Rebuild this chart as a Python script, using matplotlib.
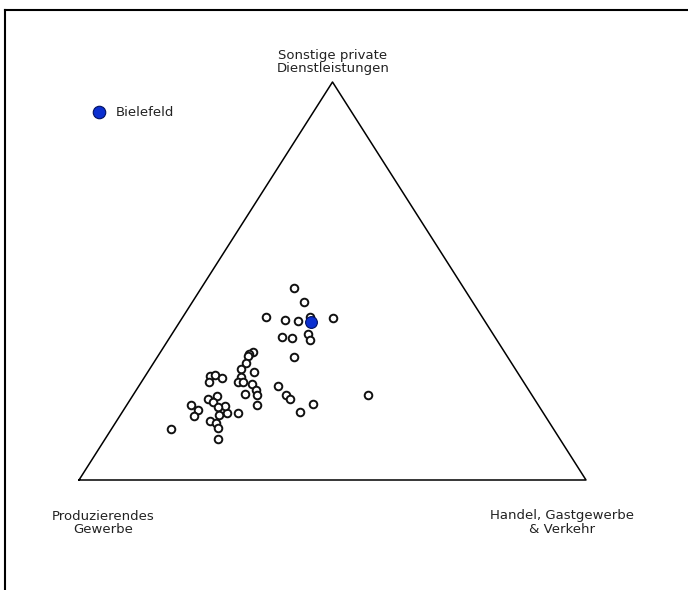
import matplotlib
matplotlib.use("Agg")
import matplotlib.pyplot as plt
from matplotlib.lines import Line2D
import numpy as np

plt.rcParams['font.family'] = ['DejaVu Sans']

# shares in percent: Produzierendes Gewerbe, Handel/Gastgewerbe/Verkehr, Sonstige private Dienstleistungen
produz = [33.4, 33.3, 42.6, 39.3, 36.8, 34.0, 29.5, 41.9, 40.1, 36.5, 36.8, 42.0,
          49.7, 50.6, 51.2, 52.3, 54.2, 51.8, 61.0, 60.0, 58.9, 62.0, 55.1, 56.2,
          55.5, 53.8, 53.9, 54.2, 56.4, 49.0, 48.5, 48.3, 44.3, 47.9, 32.3, 55.5,
          60.2, 62.3, 61.8, 62.2, 64.3, 63.8, 63.4, 64.3, 66.7, 65.8, 66.0, 67.4,
          68.5, 67.8, 69.3, 75.5]
handel = [18.3, 22.1, 16.4, 20.6, 23.3, 25.0, 29.8, 22.1, 24.2, 26.7, 27.9, 27.0,
          18.2, 17.8, 17.7, 18.2, 18.0, 21.0, 12.8, 13.7, 15.4, 13.4, 18.9, 19.1,
          20.0, 22.1, 23.6, 24.5, 21.9, 27.5, 30.2, 31.4, 36.7, 35.1, 46.4, 25.6,
          23.0, 20.8, 19.5, 16.8, 15.3, 16.7, 18.3, 19.4, 18.5, 19.9, 20.9, 22.4,
          12.7, 14.6, 14.6, 11.8]
sonstige = [48.3, 44.6, 41.0, 40.1, 39.9, 41.0, 40.7, 36.0, 35.7, 36.8, 35.3, 31.0,
            32.1, 31.6, 31.1, 29.5, 27.8, 27.2, 26.2, 26.3, 25.7, 24.6, 26.0, 24.7,
            24.5, 24.1, 22.5, 21.3, 21.7, 23.5, 21.3, 20.3, 19.0, 17.0, 21.3, 18.9,
            16.8, 16.9, 18.7, 21.0, 20.4, 19.5, 18.3, 16.3, 14.8, 14.3, 13.1, 10.2,
            18.8, 17.6, 16.1, 12.7]

bielefeld = [34.4, 26.0, 39.6]

corner_labels = ["Produzierendes\nGewerbe", "Handel, Gastgewerbe\n& Verkehr",
                 "Sonstige private\nDienstleistungen"]


def to_xy(a, b, c):
    a, b, c = np.asarray(a, float), np.asarray(b, float), np.asarray(c, float)
    tot = a + b + c
    return (b + c / 2) / tot, c / tot


W, H = 688, 590
fig = plt.figure(figsize=(W / 100, H / 100), dpi=100)
ax = fig.add_axes([79 / W, (H - 480) / H, 507 / W, 398 / H])
ax.set_xlim(0, 1)
ax.set_ylim(0, 1)
ax.axis('off')

# triangle
ax.plot([0, 1, 0.5, 0], [0, 0, 1, 0], color='black', lw=1.1, clip_on=False)

x, y = to_xy(produz, handel, sonstige)
ax.scatter(x, y, s=30, facecolors='white', edgecolors='#111111', linewidths=1.4,
           zorder=3, clip_on=False)

bx, by = to_xy(*bielefeld)
ax.scatter([bx], [by], s=72, color='#0b2fd0', edgecolors='#001060', linewidths=0.8,
           zorder=4, clip_on=False)

# corner labels (positions in figure pixels)
lbl = dict(ha='center', va='baseline', fontsize=9.5, linespacing=1.05,
           transform=fig.transFigure, color='#222222')
fig.text(333 / W, 1 - 72 / H, corner_labels[2], **lbl)
fig.text(103 / W, 1 - 533 / H, corner_labels[0], **lbl)
fig.text(562 / W, 1 - 533 / H, corner_labels[1], **lbl)

# legend for Bielefeld
handle = Line2D([], [], marker='o', ls='none', markersize=9, markerfacecolor='#0b2fd0',
                markeredgecolor='#001060', markeredgewidth=0.8, label='Bielefeld')
fig.legend(handles=[handle], loc='center left', bbox_to_anchor=(92 / W, 1 - 113 / H),
           frameon=False, handlelength=1.0, handletextpad=0.8, borderpad=0,
           borderaxespad=0, fontsize=9.5, labelcolor='#222222')

# frame lines (top and left)
fig.add_artist(Line2D([5 / W, 1], [1 - 10 / H, 1 - 10 / H], color='black', lw=1.5,
                      transform=fig.transFigure))
fig.add_artist(Line2D([5 / W, 5 / W], [0, 1 - 10 / H], color='black', lw=1.5,
                      transform=fig.transFigure))

fig.savefig("out.png", dpi=100)
